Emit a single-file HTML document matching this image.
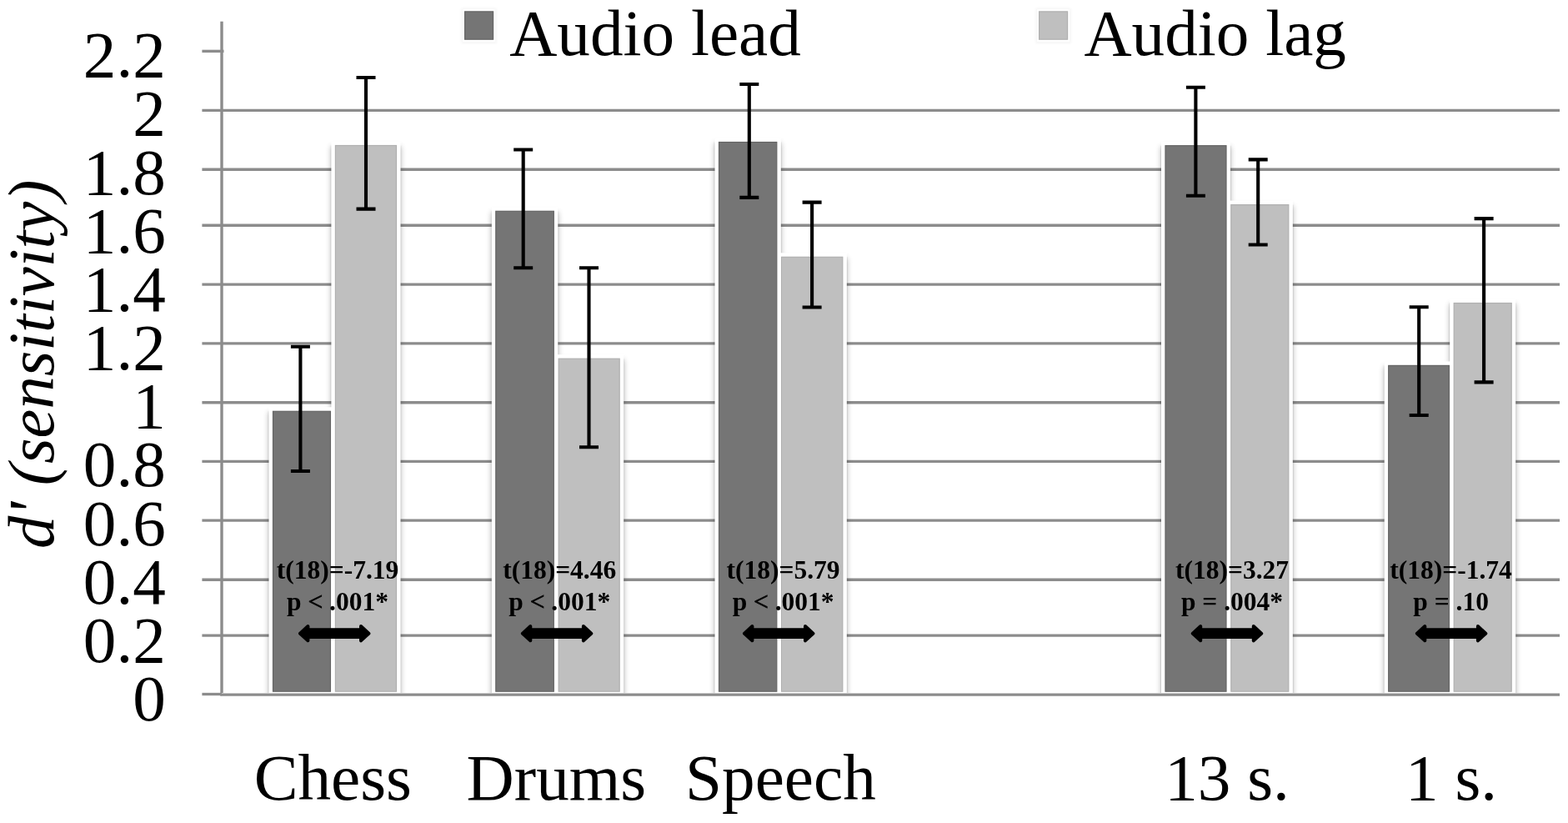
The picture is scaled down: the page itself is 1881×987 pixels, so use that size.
<!DOCTYPE html>
<html lang="en"><head><meta charset="utf-8"><title>Audio lead vs. audio lag sensitivity</title>
<style>
html,body{margin:0;padding:0;background:#fff;}
body{width:1881px;height:987px;overflow:hidden;}
svg{display:block;}
text{font-family:'Liberation Serif', 'Times New Roman', Times, serif;fill:#000;}
.big{font-size:79.2px;}
.ann{font-size:31.5px;font-weight:bold;text-anchor:middle;}
.cat{text-anchor:middle;}
.tick{text-anchor:end;}
</style></head><body>
<svg width="1881" height="987" viewBox="0 0 1881 987">
<defs>
<filter id="sh" filterUnits="userSpaceOnUse" x="0" y="0" width="1881" height="987"><feGaussianBlur stdDeviation="3.6"/></filter>
<filter id="sh2" x="-30%" y="-30%" width="160%" height="160%"><feGaussianBlur stdDeviation="1.5"/></filter>
</defs>
<rect x="0" y="0" width="1881" height="987" fill="#fff"/>
<g stroke="#8c8c8c" stroke-width="3.4" fill="none">
<line x1="242.4" y1="132.4" x2="1871.0" y2="132.4"/>
<line x1="242.4" y1="203.2" x2="1871.0" y2="203.2"/>
<line x1="242.4" y1="270.2" x2="1871.0" y2="270.2"/>
<line x1="242.4" y1="341.1" x2="1871.0" y2="341.1"/>
<line x1="242.4" y1="411.9" x2="1871.0" y2="411.9"/>
<line x1="242.4" y1="482.8" x2="1871.0" y2="482.8"/>
<line x1="242.4" y1="553.4" x2="1871.0" y2="553.4"/>
<line x1="242.4" y1="624.1" x2="1871.0" y2="624.1"/>
<line x1="242.4" y1="695.2" x2="1871.0" y2="695.2"/>
<line x1="242.4" y1="762.1" x2="1871.0" y2="762.1"/>
<line x1="242.4" y1="61.4" x2="268.5" y2="61.4"/>
<line x1="266.0" y1="25.8" x2="266.0" y2="834.6"/>
</g>
<g fill="#000" opacity="0.30" filter="url(#sh)">
<rect x="322.5" y="494.3" width="79.0" height="361.5"/>
<rect x="397.4" y="175.5" width="83.1" height="680.3"/>
<rect x="589.8" y="254.3" width="79.5" height="601.5"/>
<rect x="665.0" y="431.2" width="83.2" height="424.6"/>
<rect x="857.5" y="171.5" width="79.3" height="684.3"/>
<rect x="932.4" y="309.3" width="83.4" height="546.5"/>
<rect x="1393.0" y="175.7" width="83.0" height="680.1"/>
<rect x="1471.8" y="246.6" width="79.0" height="609.2"/>
<rect x="1660.7" y="439.4" width="82.8" height="416.4"/>
<rect x="1739.2" y="364.5" width="79.0" height="491.3"/>
</g>
<g stroke="#000" stroke-opacity="0.07" stroke-width="1" fill="none">
<path d="M322.00 493.3V830.8M402.00 493.3V830.8"/>
<path d="M396.90 174.5V830.8M481.00 174.5V830.8"/>
<path d="M589.30 253.3V830.8M669.80 253.3V830.8"/>
<path d="M664.50 430.2V830.8M748.70 430.2V830.8"/>
<path d="M857.00 170.5V830.8M937.30 170.5V830.8"/>
<path d="M931.90 308.3V830.8M1016.30 308.3V830.8"/>
<path d="M1392.50 174.7V830.8M1476.50 174.7V830.8"/>
<path d="M1471.30 245.6V830.8M1551.30 245.6V830.8"/>
<path d="M1660.20 438.4V830.8M1744.00 438.4V830.8"/>
<path d="M1738.70 363.5V830.8M1818.70 363.5V830.8"/>
</g>
<g>
<rect x="322.5" y="488.3" width="79.0" height="342.7" fill="#fff"/><rect x="327.50" y="493.30" width="69.00" height="335.90" fill="#757575" stroke="#646464" stroke-width="1.2"/>
<rect x="397.4" y="169.5" width="83.1" height="661.5" fill="#fff"/><rect x="402.40" y="174.50" width="73.10" height="654.70" fill="#bfbfbf" stroke="#b0b0b0" stroke-width="1.2"/>
<rect x="665.0" y="425.2" width="83.2" height="405.8" fill="#fff"/><rect x="670.00" y="430.20" width="73.20" height="399.00" fill="#bfbfbf" stroke="#b0b0b0" stroke-width="1.2"/>
<rect x="589.8" y="248.3" width="79.5" height="582.7" fill="#fff"/><rect x="594.80" y="253.30" width="69.50" height="575.90" fill="#757575" stroke="#646464" stroke-width="1.2"/>
<rect x="932.4" y="303.3" width="83.4" height="527.7" fill="#fff"/><rect x="937.40" y="308.30" width="73.40" height="520.90" fill="#bfbfbf" stroke="#b0b0b0" stroke-width="1.2"/>
<rect x="857.5" y="165.5" width="79.3" height="665.5" fill="#fff"/><rect x="862.50" y="170.50" width="69.30" height="658.70" fill="#757575" stroke="#646464" stroke-width="1.2"/>
<rect x="1471.8" y="240.6" width="79.0" height="590.4" fill="#fff"/><rect x="1476.80" y="245.60" width="69.00" height="583.60" fill="#bfbfbf" stroke="#b0b0b0" stroke-width="1.2"/>
<rect x="1393.0" y="169.7" width="83.0" height="661.3" fill="#fff"/><rect x="1398.00" y="174.70" width="73.00" height="654.50" fill="#757575" stroke="#646464" stroke-width="1.2"/>
<rect x="1660.7" y="433.4" width="82.8" height="397.6" fill="#fff"/><rect x="1665.70" y="438.40" width="72.80" height="390.80" fill="#757575" stroke="#646464" stroke-width="1.2"/>
<rect x="1739.2" y="358.5" width="79.0" height="472.5" fill="#fff"/><rect x="1744.20" y="363.50" width="69.00" height="465.70" fill="#bfbfbf" stroke="#b0b0b0" stroke-width="1.2"/>
</g>
<rect x="0" y="831" width="1881" height="40" fill="#fff"/>
<line x1="242.4" y1="832.5" x2="266.0" y2="832.5" stroke="#8c8c8c" stroke-width="3.3"/>
<line x1="264.2" y1="833.2" x2="1871.0" y2="833.2" stroke="#8c8c8c" stroke-width="3.3"/>
<g stroke="#000" stroke-width="4.1" fill="none">
<path d="M348.9 415.7H371.9M348.9 565.0H371.9M360.4 415.7V565.0"/>
<path d="M427.5 93.0H450.5M427.5 250.6H450.5M439.0 93.0V250.6"/>
<path d="M616.2 179.5H639.2M616.2 321.3H639.2M627.7 179.5V321.3"/>
<path d="M695.0 321.3H718.0M695.0 536.3H718.0M706.5 321.3V536.3"/>
<path d="M887.3 101.0H910.3M887.3 236.9H910.3M898.8 101.0V236.9"/>
<path d="M962.6 242.6H985.6M962.6 368.5H985.6M974.1 242.6V368.5"/>
<path d="M1422.9 104.8H1445.9M1422.9 234.7H1445.9M1434.4 104.8V234.7"/>
<path d="M1497.7 191.4H1520.7M1497.7 293.5H1520.7M1509.2 191.4V293.5"/>
<path d="M1690.7 368.3H1713.7M1690.7 498.0H1713.7M1702.2 368.3V498.0"/>
<path d="M1768.6 262.1H1791.6M1768.6 458.4H1791.6M1780.1 262.1V458.4"/>
</g>
<g fill="#000" stroke="#000" stroke-width="4" stroke-linejoin="round">
<polygon points="360.0,759.7 369.4,751.1 369.4,755.3 433.0,755.3 433.0,751.1 442.4,759.7 433.0,768.3 433.0,764.1 369.4,764.1 369.4,768.3"/>
<polygon points="626.9,759.7 636.3,751.1 636.3,755.3 699.9,755.3 699.9,751.1 709.3,759.7 699.9,768.3 699.9,764.1 636.3,764.1 636.3,768.3"/>
<polygon points="893.0,759.7 902.4,751.1 902.4,755.3 966.0,755.3 966.0,751.1 975.4,759.7 966.0,768.3 966.0,764.1 902.4,764.1 902.4,768.3"/>
<polygon points="1430.8,759.7 1440.2,751.1 1440.2,755.3 1503.8,755.3 1503.8,751.1 1513.2,759.7 1503.8,768.3 1503.8,764.1 1440.2,764.1 1440.2,768.3"/>
<polygon points="1699.9,759.7 1709.3,751.1 1709.3,755.3 1772.9,755.3 1772.9,751.1 1782.3,759.7 1772.9,768.3 1772.9,764.1 1709.3,764.1 1709.3,768.3"/>
</g>
<text class="ann" x="405.0" y="693.8">t(18)=-7.19</text>
<text class="ann" x="405.0" y="731.6">p <tspan style="font-weight:normal" stroke="#000" stroke-width="0.7">&lt;</tspan> .001*</text>
<text class="ann" x="671.2" y="693.8">t(18)=4.46</text>
<text class="ann" x="671.2" y="731.6">p <tspan style="font-weight:normal" stroke="#000" stroke-width="0.7">&lt;</tspan> .001*</text>
<text class="ann" x="939.6" y="693.8">t(18)=5.79</text>
<text class="ann" x="939.6" y="731.6">p <tspan style="font-weight:normal" stroke="#000" stroke-width="0.7">&lt;</tspan> .001*</text>
<text class="ann" x="1478.0" y="693.8">t(18)=3.27</text>
<text class="ann" x="1478.0" y="731.6">p = .004*</text>
<text class="ann" x="1740.6" y="693.8">t(18)=-1.74</text>
<text class="ann" x="1740.6" y="731.6">p = .10</text>
<text class="big tick" x="198.8" y="92.2">2.2</text>
<text class="big tick" x="198.8" y="162.4">2</text>
<text class="big tick" x="198.8" y="232.5">1.8</text>
<text class="big tick" x="198.8" y="302.7">1.6</text>
<text class="big tick" x="198.8" y="372.9">1.4</text>
<text class="big tick" x="198.8" y="443.1">1.2</text>
<text class="big tick" x="198.8" y="513.2">1</text>
<text class="big tick" x="198.8" y="583.4">0.8</text>
<text class="big tick" x="198.8" y="653.6">0.6</text>
<text class="big tick" x="198.8" y="723.7">0.4</text>
<text class="big tick" x="198.8" y="793.9">0.2</text>
<text class="big tick" x="198.8" y="864.1">0</text>
<text class="big cat" x="399.3" y="958.7">Chess</text>
<text class="big cat" x="667.4" y="958.7">Drums</text>
<text class="big cat" x="936.4" y="958.7">Speech</text>
<text class="big cat" x="1472.0" y="958.7">13 s.</text>
<text class="big cat" x="1741.0" y="958.7">1 s.</text>
<text style="font-size:78.6px;font-style:italic;text-anchor:middle" transform="translate(63.7 436.8) rotate(-90)">d' (sensitivity)</text>
<rect x="553.3" y="9.6" width="42.6" height="42.6" fill="#000" opacity="0.035" filter="url(#sh2)"/><rect x="555.0" y="11.3" width="39.2" height="38.6" fill="#fff"/><rect x="557.60" y="13.9" width="34.0" height="33.3" fill="#757575" stroke="#646464" stroke-width="1.2"/><text style="font-size:79.2px" x="611.2" y="66.2">Audio lead</text>
<rect x="1242.3" y="9.6" width="42.6" height="42.6" fill="#000" opacity="0.035" filter="url(#sh2)"/><rect x="1244.0" y="11.3" width="39.2" height="38.6" fill="#fff"/><rect x="1246.60" y="13.9" width="34.0" height="33.3" fill="#bfbfbf" stroke="#b0b0b0" stroke-width="1.2"/><text style="font-size:79.2px" x="1300.4" y="66.2">Audio lag</text>
</svg>
</body></html>
